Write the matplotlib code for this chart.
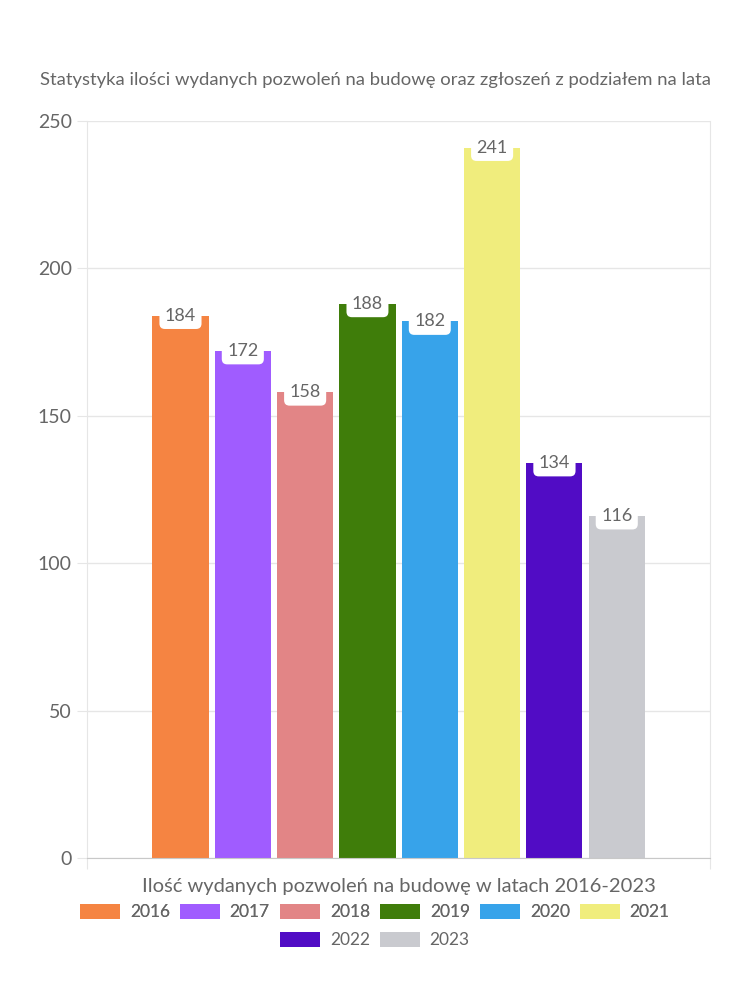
import matplotlib
matplotlib.use("Agg")
from matplotlib import pyplot as plt

years = ["2016", "2017", "2018", "2019", "2020", "2021", "2022", "2023"]
values = [184, 172, 158, 188, 182, 241, 134, 116]
colors = ["#f58442", "#a05cff", "#e28586", "#3f7d0a", "#37a3ea", "#f0ed7d", "#510cc5", "#c9cacf"]
yticks = [0, 50, 100, 150, 200, 250]

title = "Statystyka ilości wydanych pozwoleń na budowę oraz zgłoszeń z podziałem na lata"
xlabel = "Ilość wydanych pozwoleń na budowę w latach 2016-2023"

plt.rcParams["font.family"] = ["Lato", "DejaVu Sans"]
txt = "#666666"

fig = plt.figure(figsize=(7.5, 10), dpi=100)
ax = fig.add_axes([0.116, 0.142, 0.831, 0.737])

step = 0.1
width = 0.09
handles = []
for i, (yr, v, c) in enumerate(zip(years, values, colors)):
    x = (i - (len(years) - 1) / 2) * step
    b = ax.bar(x, v, width=width, color=c, label=yr, zorder=2)
    handles.append(b)
    ax.annotate(str(v), (x, v), xytext=(0, 0), textcoords="offset points",
                ha="center", va="center", fontsize=13, color=txt, zorder=4,
                bbox=dict(boxstyle="round,pad=0.3,rounding_size=0.3", fc="white", ec="none"))

ax.set_xlim(-0.5, 0.5)
ax.set_ylim(0, 250)
ax.set_yticks(yticks)
ax.set_xticks([-0.5, 0.5])
ax.set_xticklabels(["", ""])
ax.grid(axis="y", color="#e6e6e6", lw=1, zorder=0)
ax.tick_params(axis="y", length=7, color="#e6e6e6", labelsize=14, labelcolor=txt, pad=4)
ax.tick_params(axis="x", length=8, color="#e6e6e6")
for s in ["left", "right", "top"]:
    ax.spines[s].set_color("#e6e6e6")
ax.spines["top"].set_visible(False)
ax.spines["bottom"].set_color("#c8c8c8")

ax.set_xlabel(xlabel, fontsize=14.5, color=txt, labelpad=3)
fig.text(0.5, 0.92, title, ha="center", va="center", fontsize=13.3, color=txt)

kw = dict(frameon=False, fontsize=12.5, labelcolor=txt, handlelength=2.3, handleheight=1.0,
          columnspacing=0.6, handletextpad=0.55)
leg1 = fig.legend(handles[:6], years[:6], loc="center", bbox_to_anchor=(0.5, 0.088), ncol=6, **kw)
fig.legend(handles[6:], years[6:], loc="center", bbox_to_anchor=(0.5, 0.06), ncol=2, **kw)
fig.add_artist(leg1)

fig.savefig("out.png", dpi=100)
